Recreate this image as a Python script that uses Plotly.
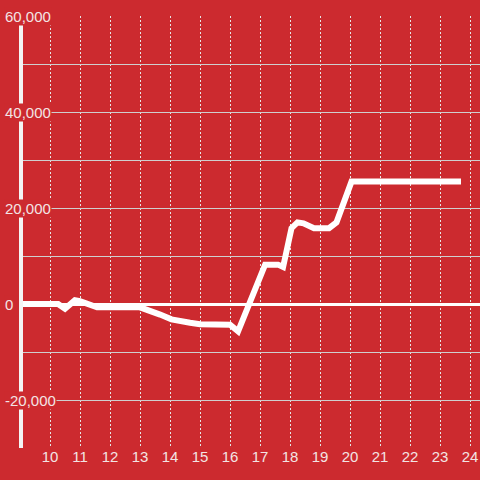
import plotly.graph_objects as go

# Data (x = hour of day, y = value)
hours = [9.0, 10.27, 10.5, 10.83, 11.0, 11.57, 13.0, 13.33, 13.67, 14.05, 14.33,
         14.67, 15.0, 16.0, 16.27, 16.9, 17.17, 17.6, 17.77, 18.05, 18.25, 18.45,
         18.8, 19.3, 19.55, 20.05, 23.7]
values = [0, 0, -1000, 800, 600, -700, -700, -1300, -2200, -3200, -3400,
          -3900, -4200, -4300, -5700, 4000, 8200, 8200, 7700, 15800, 17000, 16800,
          15800, 15800, 17000, 25500, 25500]

x_ticks = list(range(10, 25))
x_tick_labels = [str(v) for v in x_ticks]
y_ticks = [60000, 40000, 20000, 0, -20000]
y_tick_labels = ["60,000", "40,000", "20,000", "0", "-20,000"]
y_grid = [60000, 50000, 40000, 30000, 20000, 10000, 0, -10000, -20000, -30000]

BG = "#cc2a2f"
TXT = "#f3e4e4"
FONT = "Liberation Sans, Arial, sans-serif"

fig = go.Figure()
fig.add_trace(go.Scatter(x=hours, y=values, mode="lines",
                         line=dict(color="#ffffff", width=6), hoverinfo="skip"))

annotations = [
    dict(x=0, y=v, xref="paper", yref="y", text=t, showarrow=False,
         xanchor="left", yanchor="middle", xshift=-19,
         font=dict(family=FONT, size=15, color=TXT),
         bgcolor=BG, borderpad=0)
    for v, t in zip(y_ticks, y_tick_labels)
]

fig.update_layout(
    width=480, height=480,
    margin=dict(l=23, r=0, t=16, b=32, autoexpand=False),
    paper_bgcolor=BG, plot_bgcolor=BG,
    showlegend=False,
    annotations=annotations,
    xaxis=dict(range=[9.1, 24.3333], tickvals=x_ticks, ticktext=x_tick_labels,
               automargin=False,
               showgrid=True, gridcolor="#e6e6e6", griddash="2px,2px", gridwidth=1,
               zeroline=False, showline=False, ticks="", ticklabelstandoff=-2,
               tickfont=dict(family=FONT, size=15, color=TXT)),
    yaxis=dict(range=[-30000, 60000], tickvals=y_grid, showticklabels=False,
               automargin=False,
               showgrid=True, gridcolor="#cfcfcf", gridwidth=1,
               zeroline=True, zerolinecolor="#ffffff", zerolinewidth=3,
               showline=True, linecolor="#f4f4f4", linewidth=4, ticks=""),
)

fig.write_html("out.html", config={"displayModeBar": False},
               post_script="document.body.style.margin='0';document.body.style.overflow='hidden';")
